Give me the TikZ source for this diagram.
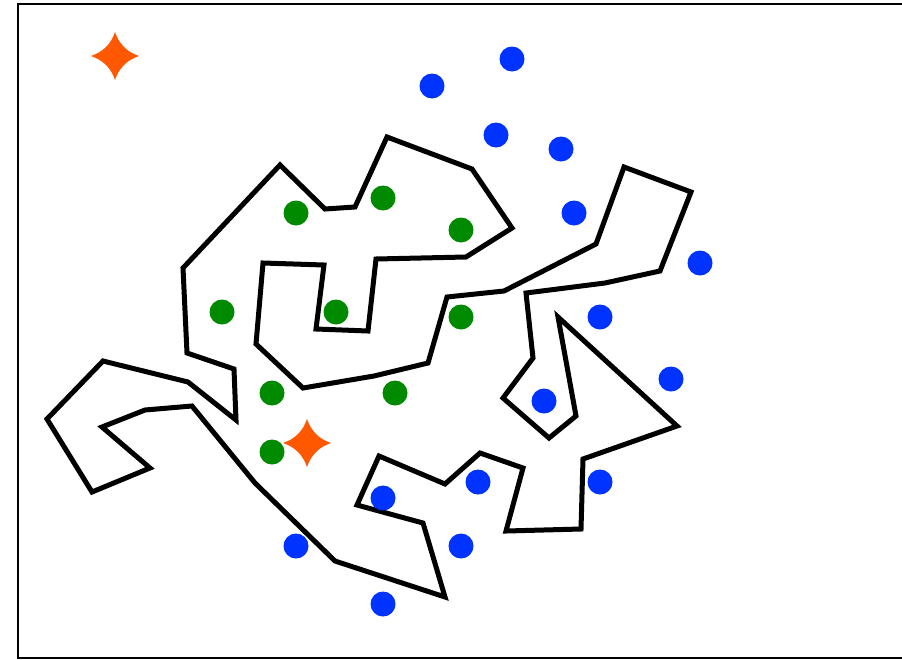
\documentclass[tikz,border=0pt]{standalone}
\usepackage{tikz}
\usetikzlibrary{calc}

\definecolor{dotblue}{RGB}{0,51,255}
\definecolor{dotgreen}{RGB}{0,138,0}
\definecolor{sparkorange}{RGB}{255,88,0}

\tikzset{
  bluedot/.style={circle, fill=dotblue, inner sep=0pt, minimum size=25pt},
  greendot/.style={circle, fill=dotgreen, inner sep=0pt, minimum size=25pt},
  maze/.style={draw=black, line width=5pt, line join=miter},
}

% four pointed star with hollow sides
\newcommand{\drawsparkle}[1]{%
  \fill[sparkorange] ($(#1)+(0,-24)$) .. controls ($(#1)+(4,-12)$) and ($(#1)+(12,-4)$) .. ($(#1)+(24,0)$)
    .. controls ($(#1)+(12,4)$) and ($(#1)+(4,12)$) .. ($(#1)+(0,24)$)
    .. controls ($(#1)+(-4,12)$) and ($(#1)+(-12,4)$) .. ($(#1)+(-24,0)$)
    .. controls ($(#1)+(-12,-4)$) and ($(#1)+(-4,-12)$) .. cycle;}

\begin{document}
\begin{tikzpicture}[x=1pt, y=-1pt]

      \useasboundingbox (0,0) rectangle (902,659);
      \draw[line width=2.2pt] (18,4) rectangle (910,658);

      \draw[maze] (280,165) -- (325,209) -- (355,207) -- (387,137) -- (472,169) -- (512,228)
        -- (466,257) -- (376,259) -- (368,331) -- (316,329) -- (324,265) -- (263,263)
        -- (256,344) -- (303,388) -- (374,376) -- (428,363) -- (447,297) -- (504,291)
        -- (596,244) -- (624,167) -- (691,192) -- (660,271) -- (605,283) -- (526,293)
        -- (533,358) -- (503,398) -- (549,438) -- (576,416) -- (558,317) -- (677,426)
        -- (583,459) -- (581,529) -- (506,531) -- (523,468) -- (480,453) -- (445,484)
        -- (379,456) -- (357,505) -- (423,523) -- (445,597) -- (335,561) -- (255,483)
        -- (192,406) -- (145,410) -- (102,427) -- (150,468) -- (92,492) -- (47,419)
        -- (103,361) -- (188,382) -- (236,420) -- (234,369) -- (187,353) -- (183,268) -- cycle;

      % inside
      \node[greendot] (g1) at (296,213) {};
      \node[greendot] (g2) at (383,198) {};
      \node[greendot] (g3) at (461,230) {};
      \node[greendot] (g4) at (222,312) {};
      \node[greendot] (g5) at (336,312) {};
      \node[greendot] (g6) at (461,317) {};
      \node[greendot] (g7) at (272,393) {};
      \node[greendot] (g8) at (395,393) {};
      \node[greendot] (g9) at (272,452) {};

      % outside
      \node[bluedot] (b1) at (432,86) {};
      \node[bluedot] (b2) at (512,59) {};
      \node[bluedot] (b3) at (496,135) {};
      \node[bluedot] (b4) at (561,149) {};
      \node[bluedot] (b5) at (574,213) {};
      \node[bluedot] (b6) at (700,263) {};
      \node[bluedot] (b7) at (600,317) {};
      \node[bluedot] (b8) at (671,379) {};
      \node[bluedot] (b9) at (544,401) {};
      \node[bluedot] (b10) at (600,482) {};
      \node[bluedot] (b11) at (478,482) {};
      \node[bluedot] (b12) at (383,498) {};
      \node[bluedot] (b13) at (296,546) {};
      \node[bluedot] (b14) at (461,546) {};
      \node[bluedot] (b15) at (383,604) {};

      \coordinate (s1) at (115,56);
      \coordinate (s2) at (307,443);
      \drawsparkle{s1}
      \drawsparkle{s2}

\end{tikzpicture}
\end{document}
